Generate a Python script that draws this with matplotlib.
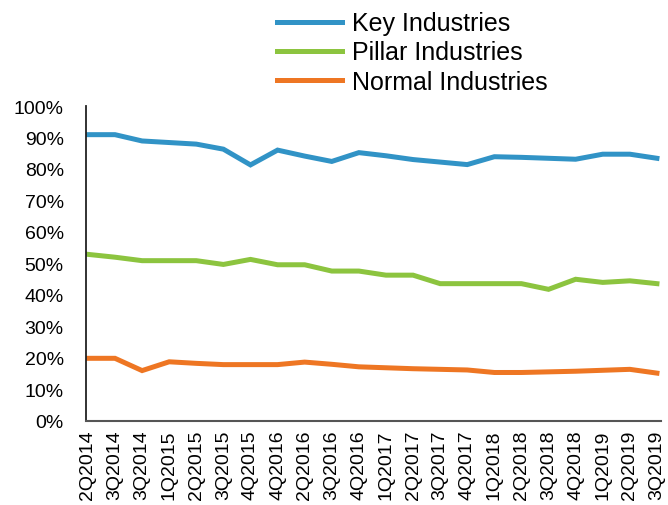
import matplotlib
matplotlib.use("Agg")
import matplotlib.pyplot as plt
from matplotlib.ticker import PercentFormatter

quarters = ["2Q2014", "3Q2014", "3Q2014", "1Q2015", "2Q2015", "3Q2015", "4Q2015",
            "4Q2016", "2Q2016", "3Q2016", "4Q2016", "1Q2017", "2Q2017", "3Q2017",
            "4Q2017", "1Q2018", "2Q2018", "3Q2018", "4Q2018", "1Q2019", "2Q2019", "3Q2019"]

key = [90.9, 90.9, 88.9, 88.4, 87.9, 86.3, 81.3, 86.0, 84.1, 82.4, 85.2, 84.2,
       83.0, 82.2, 81.4, 83.9, 83.7, 83.4, 83.1, 84.7, 84.7, 83.4]
pillar = [52.9, 52.0, 50.9, 50.9, 50.9, 49.7, 51.3, 49.6, 49.6, 47.6, 47.6, 46.3,
          46.3, 43.6, 43.6, 43.6, 43.6, 41.8, 45.0, 44.0, 44.5, 43.6]
normal = [19.9, 19.9, 16.0, 18.8, 18.3, 17.9, 17.9, 17.9, 18.7, 18.0, 17.2, 16.9,
          16.6, 16.4, 16.2, 15.4, 15.4, 15.6, 15.8, 16.1, 16.4, 15.2]

plt.rcParams['font.family'] = ['Liberation Sans', 'DejaVu Sans']

fig = plt.figure(figsize=(6.68, 5.06), dpi=100)
ax = fig.add_axes([86/668, (506-422)/506, (661-86)/668, (422-107)/506])

x = list(range(len(quarters)))
ax.plot(x, key, color="#3193C6", lw=3.6, label="Key Industries", solid_joinstyle="miter")
ax.plot(x, pillar, color="#8CC43F", lw=3.6, label="Pillar Industries", solid_joinstyle="miter")
ax.plot(x, normal, color="#EE7623", lw=3.6, label="Normal Industries", solid_joinstyle="miter")

ax.set_xlim(-0.07, 21.15)
ax.set_ylim(0, 100)
ax.set_yticks(range(0, 101, 10))
ax.yaxis.set_major_formatter(PercentFormatter(decimals=0))
ax.set_xticks(x)
ax.set_xticklabels(quarters, rotation=90)
ax.tick_params(axis='both', length=0, labelsize=14)
ax.tick_params(axis='y', pad=16)
ax.tick_params(axis='x', pad=6)
for s in ["top", "right"]:
    ax.spines[s].set_visible(False)
ax.spines["left"].set_color("#222222")
ax.spines["left"].set_linewidth(1.3)
ax.spines["bottom"].set_color("#555555")
ax.spines["bottom"].set_linewidth(1.5)

fig.legend(loc="upper left", bbox_to_anchor=(264/668, 1.0), frameon=False,
           fontsize=18, handlelength=2.6, handletextpad=0.4, labelspacing=0.2,
           borderaxespad=0.1)

fig.savefig("out.png", dpi=100)
